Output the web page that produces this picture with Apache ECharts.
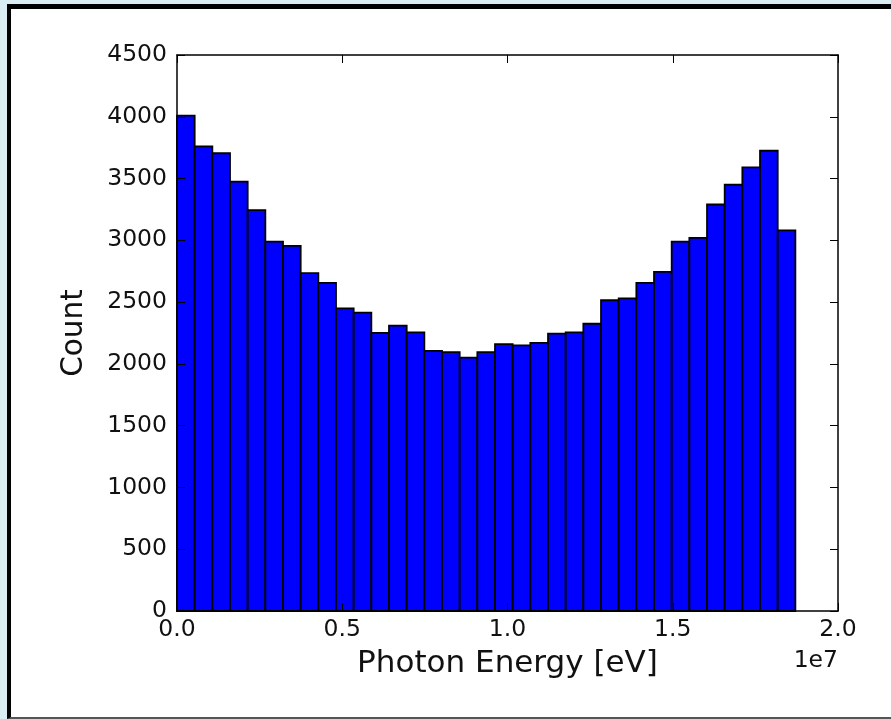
<!DOCTYPE html>
<html>
<head>
<meta charset="utf-8">
<script src="https://cdn.jsdelivr.net/npm/echarts@6/dist/echarts.min.js"></script>
<style>
  html, body { margin: 0; padding: 0; background: #daedf3; }
  #frame {
    position: absolute; left: 7px; top: 4px; width: 900px; height: 708px;
    background: #ffffff; border-top: 5px solid #000; border-left: 4px solid #000;
    border-bottom: 2px solid #555;
  }
  #chart { position: absolute; left: 0; top: 0; width: 891px; height: 719px; }
</style>
</head>
<body>
<div id="frame"></div>
<div id="chart"></div>
<script>
// Histogram of photon energies: 35 equal-width bins
const energyMin = 0;
const energyMax = 1.871e7;
const counts = [
  4010, 3760, 3705, 3475, 3245, 2990, 2955, 2735, 2655, 2450,
  2415, 2250, 2310, 2255, 2105, 2095, 2050, 2095, 2160, 2150,
  2170, 2245, 2255, 2325, 2515, 2530, 2655, 2745, 2990, 3020,
  3290, 3450, 3590, 3725, 3080
];
const xTicks = [0, 5e6, 1e7, 1.5e7, 2e7];
const yTicks = [0, 500, 1000, 1500, 2000, 2500, 3000, 3500, 4000, 4500];

const binWidth = (energyMax - energyMin) / counts.length;
const bins = counts.map((c, i) => [energyMin + i * binWidth, energyMin + (i + 1) * binWidth, c]);

const font = 'DejaVu Sans';
const chart = echarts.init(document.getElementById('chart'), null, { renderer: 'canvas' });

const spine = { show: true, onZero: false, lineStyle: { color: '#000', width: 1.5 } };
const tick = { show: true, inside: true, length: 8, lineStyle: { color: '#000', width: 1 } };

chart.setOption({
  backgroundColor: 'transparent',
  animation: false,
  grid: { left: 177, top: 55, right: 53, bottom: 108, containLabel: false },
  xAxis: [{
    type: 'value', position: 'bottom', min: 0, max: 2e7, interval: 5e6, z: 5,
    axisLine: spine, axisTick: tick, splitLine: { show: false },
    axisLabel: {
      fontFamily: font, fontSize: 23.5, color: '#111', margin: 7,
      formatter: v => xTicks.includes(v) ? (v / 1e7).toFixed(1) : ''
    },
    name: 'Photon Energy [eV]', nameLocation: 'middle', nameGap: 37,
    nameTextStyle: { fontFamily: font, fontSize: 31, color: '#111' }
  }, {
    type: 'value', position: 'top', min: 0, max: 2e7, interval: 5e6, z: 5,
    axisLine: spine, axisTick: tick, splitLine: { show: false }, axisLabel: { show: false }
  }],
  yAxis: [{
    type: 'value', position: 'left', min: 0, max: 4500, interval: 500, z: 5,
    axisLine: spine, axisTick: tick, splitLine: { show: false },
    axisLabel: {
      fontFamily: font, fontSize: 23.5, color: '#111', margin: 10,
      formatter: v => yTicks.includes(v) ? String(v) : ''
    },
    name: 'Count', nameLocation: 'middle', nameGap: 88,
    nameTextStyle: { fontFamily: font, fontSize: 29.5, color: '#111' }
  }, {
    type: 'value', position: 'right', min: 0, max: 4500, interval: 500, z: 5,
    axisLine: spine, axisTick: tick, splitLine: { show: false }, axisLabel: { show: false }
  }],
  graphic: [{
    type: 'text', right: 53, top: 649,
    style: { text: '1e7', fontFamily: font, fontSize: 23.5, fill: '#111' }
  }],
  series: [{
    type: 'custom',
    xAxisIndex: 0, yAxisIndex: 0,
    encode: { x: [0, 1], y: 2 },
    data: bins,
    renderItem: (params, api) => {
      const p0 = api.coord([api.value(0), api.value(2)]);
      const p1 = api.coord([api.value(1), 0]);
      return {
        type: 'rect',
        shape: { x: p0[0], y: p0[1], width: p1[0] - p0[0], height: p1[1] - p0[1] },
        style: { fill: '#0000ff', stroke: '#000', lineWidth: 1.8 }
      };
    }
  }]
});
</script>
</body>
</html>
